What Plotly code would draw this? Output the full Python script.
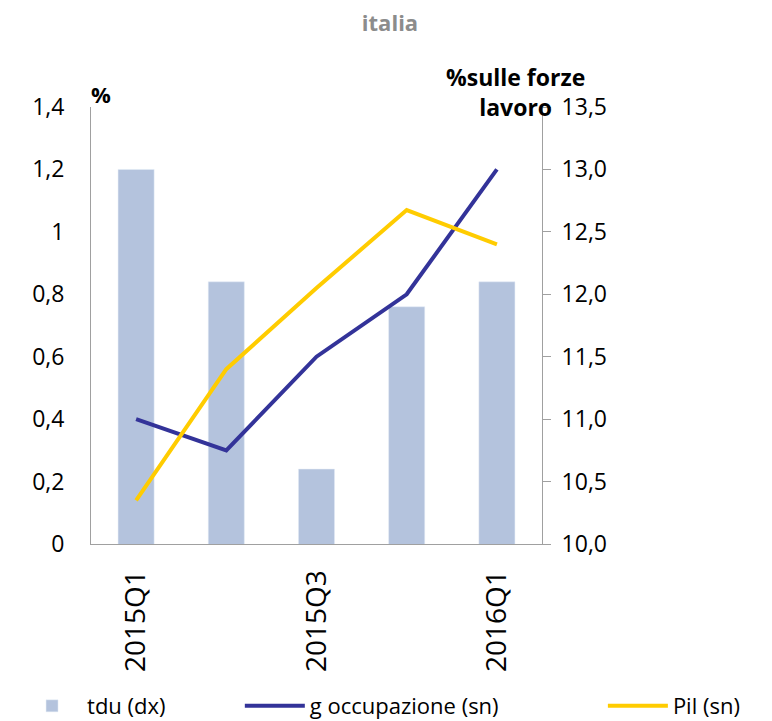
import plotly.graph_objects as go

quarters = ['2015Q1', '2015Q2', '2015Q3', '2015Q4', '2016Q1']
shown_ticks = ['2015Q1', '2015Q3', '2016Q1']
tdu = [13.0, 12.1, 10.6, 11.9, 12.1]
g_occupazione = [0.4, 0.3, 0.6, 0.8, 1.2]
pil = [0.14, 0.56, 0.82, 1.07, 0.96]

FONT = 'Open Sans'
GREY = '#a0a0a0'

fig = go.Figure()

# bars on the right axis (dx), lines overlaid on the left axis (sn) so they sit on top
fig.add_trace(go.Bar(x=quarters, y=tdu, name='tdu (dx)', yaxis='y',
                     marker={'color': '#b4c3dd'}, legend='legend'))
fig.add_trace(go.Scatter(x=quarters, y=g_occupazione, name='g occupazione (sn)',
                         yaxis='y2', mode='lines',
                         line={'color': '#333399', 'width': 4},
                         legend='legend2'))
fig.add_trace(go.Scatter(x=quarters, y=pil, name='Pil (sn)', yaxis='y2',
                         mode='lines', line={'color': '#ffcc00', 'width': 4},
                         legend='legend3'))

# legends placed against the container so they don't push the bottom margin
leg = dict(orientation='h', yanchor='middle', xanchor='left',
           yref='container', y=0.021,
           font={'family': FONT, 'size': 22, 'color': '#000000'},
           bgcolor='rgba(0,0,0,0)', itemwidth=60)

# page body adds an 8px offset, so the figure is 8px smaller on each side
fig.update_layout(
    width=764, height=713,
    paper_bgcolor='white', plot_bgcolor='white',
    margin={'l': 83, 'r': 230, 't': 99, 'b': 177},
    separators=',.',
    bargap=0.6,
    showlegend=True,
    font={'family': FONT, 'size': 23, 'color': '#000000'},
    title={'text': '<b>italia</b>', 'x': 0.5, 'xref': 'container',
           'yref': 'container', 'y': 0.979, 'yanchor': 'middle',
           'font': {'family': FONT, 'size': 22, 'color': '#8c8c8c'}},
    xaxis={'tickvals': shown_ticks, 'tickangle': -90, 'showline': True,
           'linecolor': GREY, 'ticks': '', 'showgrid': False,
           'tickfont': {'size': 28},
           'ticklabelstandoff': 14, 'automargin': False},
    yaxis={'range': [10, 13.5], 'dtick': 0.5, 'tickformat': '.1f',
           'side': 'right', 'showline': True,
           'linecolor': GREY, 'ticks': 'outside', 'ticklen': 8,
           'tickcolor': GREY, 'showgrid': False, 'zeroline': False,
           'ticklabelstandoff': 6, 'automargin': False},
    yaxis2={'range': [0, 1.4], 'dtick': 0.2, 'overlaying': 'y', 'side': 'left',
            'showline': True, 'linecolor': GREY, 'showgrid': False,
            'zeroline': False, 'ticklabelstandoff': 21, 'automargin': False},
    legend={**leg, 'x': -0.164},
    legend2={**leg, 'x': 0.33},
    legend3={**leg, 'x': 1.135},
    annotations=[
        dict(text='<b>%</b>', xref='paper', yref='paper', x=-0.005, y=1.03,
             xanchor='left', yanchor='middle', showarrow=False,
             font={'family': FONT, 'size': 22}),
        dict(text='<b>%sulle forze<br>lavoro</b>', xref='paper', yref='paper',
             x=0.942, y=1.034, xanchor='center', yanchor='middle', align='center',
             showarrow=False, font={'family': FONT, 'size': 23}),
    ],
)

fig.write_html('out.html')
